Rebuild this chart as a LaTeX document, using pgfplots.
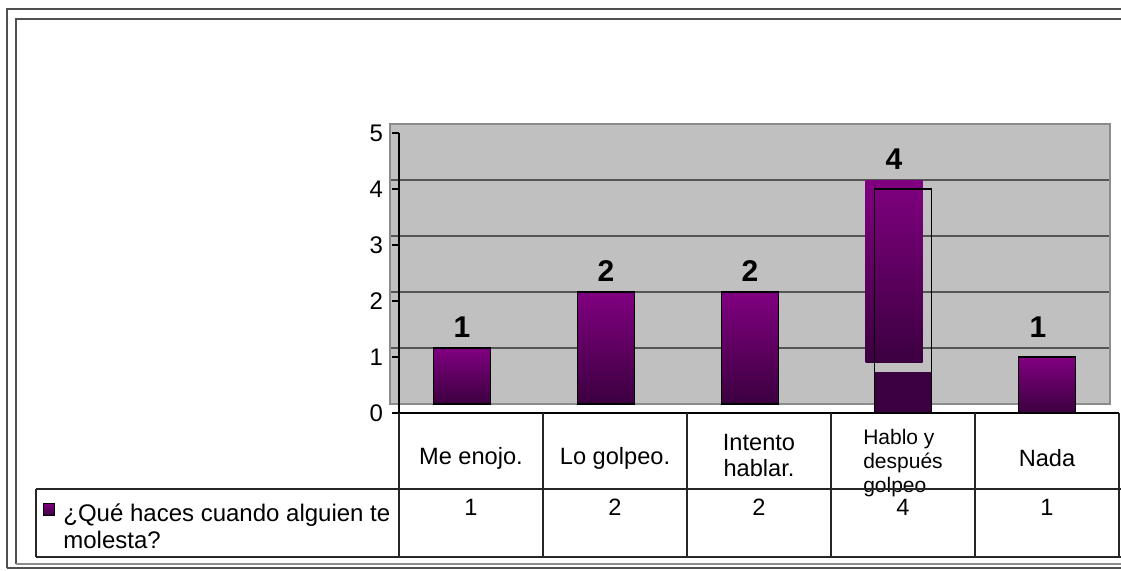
\documentclass[border=0pt]{standalone}
\usepackage{fontspec}
\setmainfont{Liberation Sans}
\usepackage{pgfplots}
\pgfplotsset{compat=1.18}
\definecolor{plotgray}{RGB}{192,192,192}
\definecolor{boxgray}{RGB}{140,140,140}
\definecolor{gridgray}{RGB}{85,85,85}
\definecolor{barhi}{RGB}{128,0,128}
\definecolor{barlo}{RGB}{60,0,64}
\definecolor{framegray}{RGB}{80,80,80}

\begin{document}
\begin{tikzpicture}[x=0.5pt,y=0.5pt]
\path[use as bounding box] (0,0) rectangle (1121,570);

% outer frames
\draw[framegray, line width=0.6pt] (7,2) -- (7,561) -- (1130,561);
\draw[framegray, line width=0.6pt] (16,6) -- (16,551) -- (1130,551);
\draw[framegray, line width=0.6pt] (7,2) -- (1130,2);
\draw[black!45, line width=0.6pt] (16,6) -- (1130,6);

% plot area with labels
\begin{axis}[
  at={(195pt,83pt)}, anchor=south west,
  width=360pt, height=140pt, scale only axis,
  xmin=-0.5, xmax=4.5, ymin=0, ymax=5,
  axis background/.style={fill=plotgray},
  axis line style={boxgray, line width=1.2pt},
  xtick=\empty, ytick={1,2,3,4}, yticklabels={},
  major tick length=0pt,
  ymajorgrids, grid style={gridgray, line width=0.7pt},
  ybar, bar width=28.5pt,
  every node near coord/.append style={text=black, font=\fontsize{15}{15}\selectfont\bfseries, anchor=south, inner sep=0pt, yshift=5pt},
  /pgf/number format/assume math mode=true,
  clip=false,
]
\addplot[bar shift=0pt, draw=none, fill=none, nodes near coords] coordinates {(0,1) (1,2) (2,2) (3,4) (4,1)};
\addplot[bar shift=0pt, draw=black, line width=0.9pt, top color=barhi, bottom color=barlo] coordinates {(0,1)};
\addplot[bar shift=0pt, draw=black, line width=0.9pt, top color=barhi, bottom color=barlo] coordinates {(1,2)};
\addplot[bar shift=0pt, draw=black, line width=0.9pt, top color=barhi, bottom color=barlo] coordinates {(2,2)};
\end{axis}

% the displaced fill of the fourth bar
\begin{axis}[
  at={(195pt,83pt)}, anchor=south west,
  width=360pt, height=140pt, scale only axis,
  xmin=-0.5, xmax=4.5, ymin=0, ymax=5,
  hide axis, ybar stacked, bar width=28.5pt,
]
\addplot[draw=none, fill=none] coordinates {(3,0.75)};
\addplot[draw=none, top color=barhi, bottom color=barlo] coordinates {(3,3.25)};
\end{axis}

% shifted layer: value axis, outlines, data table labels
\begin{axis}[
  at={(199.5pt,78.5pt)}, anchor=south west,
  width=360pt, height=140pt, scale only axis,
  xmin=-0.5, xmax=4.5, ymin=0, ymax=5,
  axis lines=left, axis line style={-, black, line width=0.55pt},
  ytick={0,...,5}, tick align=outside, major tick length=3.5pt,
  ytick style={black, line width=0.55pt},
  xtick={0,...,4}, xtick style={draw=none},
  xticklabels={Me enojo., Lo golpeo.,
    {\begin{tabular}{@{}c@{}}Intento\\hablar.\end{tabular}},
    {\raisebox{-3pt}[\height][\depth]{\fontsize{10.5}{12}\selectfont\begin{tabular}{@{}l@{}}Hablo y\\después\\golpeo\end{tabular}}},
    Nada},
  xticklabel style={anchor=center, yshift=-19pt, font=\fontsize{11.8}{13}\selectfont},
  yticklabel style={font=\fontsize{12}{13}\selectfont, xshift=-1pt},
  extra x ticks={0,1,2,3,4}, extra x tick labels={1,2,2,4,1},
  extra x tick style={major tick length=0pt, tick style={draw=none}, xticklabel style={yshift=-28.25pt}},
  /pgf/number format/assume math mode=true,
  ybar, bar width=28.5pt, clip=false,
]
\addplot[bar shift=0pt, draw=none, fill=barlo] coordinates {(3,0.73)};
\addplot[bar shift=0pt, draw=black, line width=0.7pt, fill=none] coordinates {(3,4)};
\addplot[bar shift=0pt, draw=black, line width=0.9pt, top color=barhi, bottom color=barlo] coordinates {(4,1)};
\end{axis}

% data table grid
\begin{scope}[black!85, line width=0.55pt]
\draw (399,157) -- (399,13);
\foreach \x in {543,687,831,975,1119} \draw (\x,157) -- (\x,13);
\draw (36,81) -- (1121,81);
\draw (36,13) -- (1121,13);
\draw (36,81) -- (36,13);
\end{scope}

% legend key in the table
\draw[black, line width=0.5pt, top color=barhi, bottom color=barlo] (43,55) rectangle (54,67);
\node[anchor=base west, inner sep=0pt, font=\fontsize{12}{14}\selectfont] at (63,48.3) {¿Qué haces cuando alguien te};
\node[anchor=base west, inner sep=0pt, font=\fontsize{12}{14}\selectfont] at (63,22) {molesta?};
\end{tikzpicture}
\end{document}
